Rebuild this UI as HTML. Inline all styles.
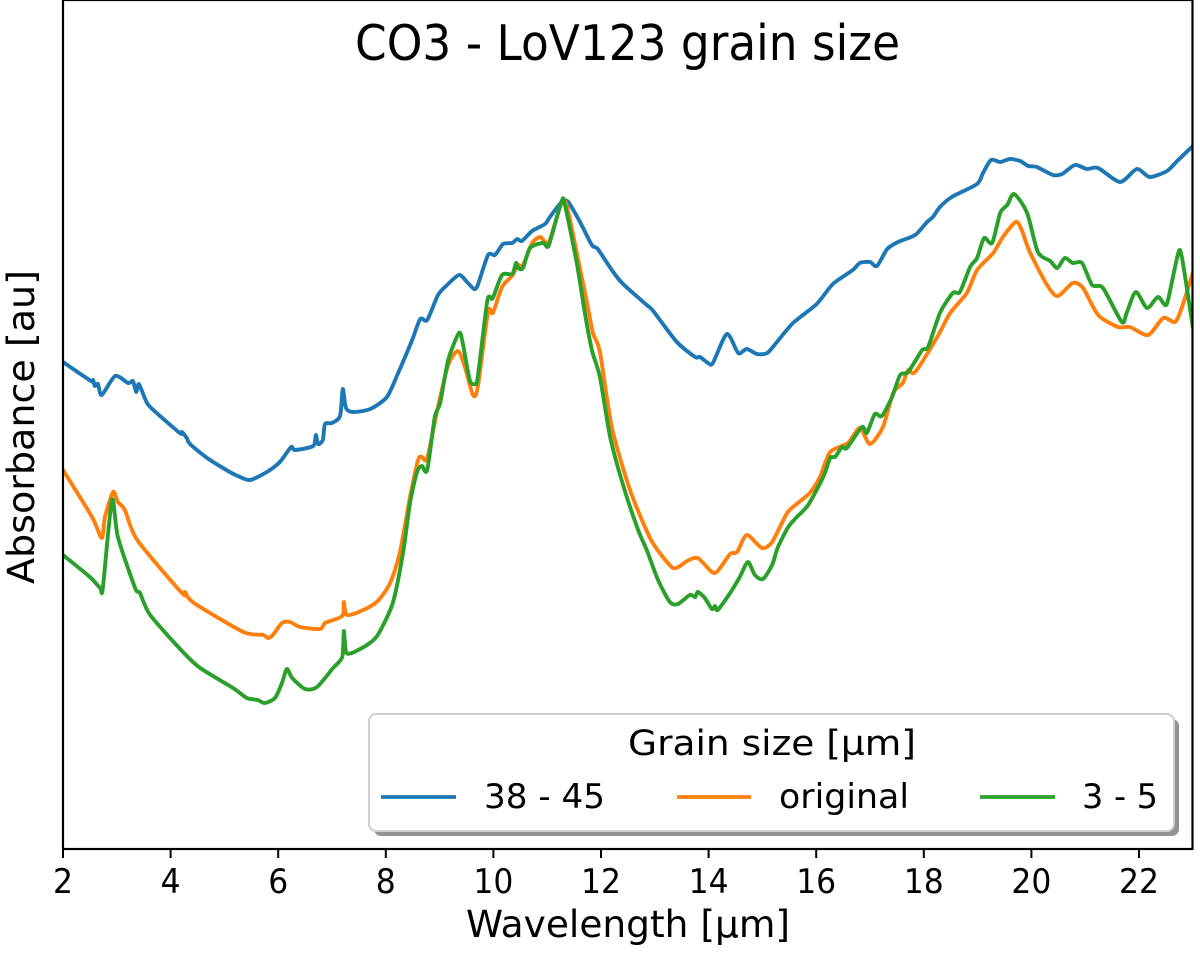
<!DOCTYPE html>
<html lang="en">
<head>
<meta charset="utf-8">
<title>CO3 - LoV123 grain size</title>
<style>
html,body{margin:0;padding:0;background:#fff;}
svg{display:block;}
text{font-family:"DejaVu Sans","Liberation Sans",sans-serif;fill:#000;}
</style>
</head>
<body>
<svg id="chart" xmlns="http://www.w3.org/2000/svg" width="1200" height="954" viewBox="0 0 1200 954">
  <defs>
    <clipPath id="plot-clip"><rect x="63" y="0" width="1129.5" height="849"/></clipPath>
    <filter id="soft" x="-2%" y="-2%" width="104%" height="104%"><feGaussianBlur stdDeviation="0.35"/></filter>
  </defs>
  <rect x="0" y="0" width="1200" height="954" fill="#fff"/>
  <g clip-path="url(#plot-clip)">
    <g id="series" filter="url(#soft)"></g>
  </g>
  <g id="ticks"></g>
  <rect x="63" y="0" width="1129.5" height="849" fill="none" stroke="#000" stroke-width="2.2"/>
  <text x="627.5" y="60" font-size="49" text-anchor="middle" textLength="545" lengthAdjust="spacingAndGlyphs">CO3 - LoV123 grain size</text>
  <text x="628" y="937" font-size="37" text-anchor="middle" textLength="324" lengthAdjust="spacingAndGlyphs">Wavelength [µm]</text>
  <text transform="translate(34,427) rotate(-90)" font-size="37" text-anchor="middle" textLength="314" lengthAdjust="spacingAndGlyphs">Absorbance [au]</text>
  <g>
    <rect x="374" y="719" width="805" height="117" rx="7" fill="#808080" opacity="0.85"/>
    <rect x="369" y="714" width="805" height="117" rx="7" fill="#fff" stroke="#cfcfcf" stroke-width="2"/>
    <text x="772" y="755" font-size="35" text-anchor="middle" textLength="288" lengthAdjust="spacingAndGlyphs">Grain size [µm]</text>
    <line x1="381" x2="456" y1="797" y2="797" stroke="#1f77b4" stroke-width="3.8"/>
    <text x="484" y="808" font-size="34" textLength="121" lengthAdjust="spacingAndGlyphs">38 - 45</text>
    <line x1="677" x2="751" y1="797" y2="797" stroke="#ff7f0e" stroke-width="3.8"/>
    <text x="779" y="808" font-size="34" textLength="130" lengthAdjust="spacingAndGlyphs">original</text>
    <line x1="980" x2="1055" y1="797" y2="797" stroke="#2ca02c" stroke-width="3.8"/>
    <text x="1082" y="808" font-size="34" textLength="76" lengthAdjust="spacingAndGlyphs">3 - 5</text>
  </g>
</svg>
<script>
const xTickValues = [2,4,6,8,10,12,14,16,18,20,22];
const xTickLabels = ["2","4","6","8","10","12","14","16","18","20","22"];

const wavelengthLarge = [2.00,2.52,2.56,2.59,2.65,2.72,2.97,3.21,3.30,3.36,3.41,3.52,3.62,4.17,4.21,4.30,4.36,4.68,5.10,5.29,5.48,5.79,6.03,6.24,6.31,6.65,6.70,6.74,6.83,6.87,7.00,7.15,7.20,7.26,7.39,7.71,8.02,8.23,8.49,8.64,8.77,8.97,9.14,9.36,9.51,9.64,9.71,9.90,10.03,10.18,10.35,10.44,10.53,10.72,10.96,11.05,11.27,11.39,11.61,11.83,11.94,12.20,12.41,12.85,12.97,13.41,13.75,13.84,13.99,14.08,14.34,14.55,14.71,14.90,15.09,15.27,15.57,16.01,16.31,16.68,16.81,17.00,17.13,17.32,17.52,17.84,18.06,18.17,18.30,18.52,18.99,19.10,19.25,19.42,19.60,19.79,19.94,20.10,20.40,20.57,20.81,21.03,21.24,21.65,21.96,22.20,22.52,22.71,23.00];
const absorbanceLarge = [.488,.469,.470,.464,.466,.455,.474,.467,.469,.458,.466,.452,.443,.417,.418,.412,.406,.392,.378,.373,.370,.378,.388,.403,.400,.404,.415,.406,.410,.426,.427,.434,.461,.442,.438,.441,.453,.477,.510,.531,.530,.555,.565,.575,.568,.561,.565,.595,.595,.606,.607,.611,.609,.619,.626,.633,.648,.648,.628,.605,.601,.580,.566,.545,.539,.508,.493,.493,.487,.487,.516,.497,.501,.496,.497,.508,.527,.546,.566,.580,.587,.588,.584,.601,.608,.615,.628,.633,.643,.653,.666,.677,.690,.688,.691,.689,.684,.683,.675,.676,.685,.681,.682,.668,.681,.673,.679,.689,.704];

const wavelengthOriginal = [2.00,2.54,2.72,2.78,2.93,3.02,3.15,3.38,4.21,4.27,4.32,4.49,5.35,5.72,5.81,5.90,6.07,6.22,6.41,6.78,6.87,7.19,7.22,7.28,7.58,7.85,8.08,8.26,8.45,8.60,8.67,8.77,8.97,9.16,9.34,9.47,9.62,9.71,9.90,9.99,10.16,10.36,10.44,10.55,10.72,10.87,10.96,11.05,11.27,11.37,11.55,11.74,11.85,11.98,12.20,12.54,12.91,13.15,13.34,13.47,13.60,13.80,14.06,14.17,14.40,14.53,14.71,14.99,15.18,15.46,15.66,15.88,16.07,16.26,16.59,16.81,17.00,17.24,17.43,17.61,17.71,17.84,18.25,18.49,18.80,18.99,19.29,19.47,19.71,19.82,19.97,20.29,20.49,20.77,20.96,21.24,21.61,21.83,22.17,22.45,22.67,22.80,23.00];
const absorbanceOriginal = [.380,.333,.312,.333,.358,.348,.340,.310,.257,.258,.253,.245,.218,.215,.212,.215,.227,.228,.223,.221,.227,.234,.248,.235,.240,.249,.267,.297,.353,.390,.393,.392,.443,.485,.499,.483,.455,.463,.538,.537,.563,.575,.585,.585,.607,.613,.608,.610,.648,.643,.597,.547,.517,.498,.423,.360,.312,.293,.282,.284,.289,.292,.278,.279,.296,.298,.315,.302,.308,.337,.347,.357,.373,.398,.407,.422,.406,.423,.457,.467,.480,.478,.513,.537,.557,.580,.597,.613,.628,.620,.598,.565,.554,.567,.562,.535,.523,.523,.515,.532,.528,.543,.577];

const wavelengthSmall = [2.00,2.50,2.69,2.74,2.91,3.02,3.34,3.43,3.62,4.23,4.55,5.16,5.42,5.62,5.75,5.94,6.07,6.16,6.26,6.50,6.72,7.02,7.19,7.22,7.26,7.37,7.65,7.85,8.13,8.32,8.45,8.58,8.67,8.77,8.91,9.01,9.16,9.36,9.43,9.56,9.66,9.71,9.88,9.94,9.99,10.16,10.35,10.42,10.46,10.55,10.68,10.92,11.00,11.05,11.27,11.33,11.55,11.70,11.83,11.98,12.17,12.41,12.69,12.85,13.06,13.28,13.43,13.65,13.75,13.80,13.93,14.06,14.12,14.17,14.40,14.58,14.73,14.86,15.01,15.18,15.29,15.48,15.64,15.85,16.13,16.26,16.35,16.48,16.57,16.85,16.94,17.09,17.22,17.41,17.56,17.71,17.97,18.08,18.30,18.54,18.67,18.86,18.99,19.12,19.27,19.42,19.55,19.68,19.92,20.12,20.35,20.48,20.62,20.77,20.94,21.13,21.33,21.68,21.77,21.94,22.15,22.35,22.48,22.54,22.73,22.80,23.00];
const absorbanceSmall = [.295,.273,.262,.262,.350,.313,.262,.257,.235,.198,.182,.162,.152,.150,.147,.152,.167,.181,.172,.161,.163,.182,.193,.219,.198,.197,.205,.215,.247,.297,.347,.378,.384,.380,.433,.447,.490,.517,.507,.470,.466,.473,.547,.553,.552,.575,.576,.587,.582,.582,.602,.607,.603,.608,.649,.645,.587,.537,.500,.473,.413,.365,.320,.300,.270,.248,.246,.255,.253,.258,.252,.241,.244,.240,.257,.273,.288,.275,.271,.285,.303,.323,.333,.345,.373,.392,.393,.403,.402,.423,.417,.436,.434,.453,.475,.478,.500,.503,.537,.557,.558,.583,.592,.612,.607,.637,.645,.656,.637,.598,.589,.582,.592,.587,.587,.565,.562,.528,.537,.558,.542,.553,.545,.550,.597,.592,.523];

const xDomain = [2, 23];
const xRange = [63, 1192.8];
const yDomain = [0, 0.85];
const yRange = [850, 0];
const SVG_NS = "http://www.w3.org/2000/svg";

function xScale(v) {
  return xRange[0] + (v - xDomain[0]) / (xDomain[1] - xDomain[0]) * (xRange[1] - xRange[0]);
}
function yScale(v) {
  return yRange[0] + (v - yDomain[0]) / (yDomain[1] - yDomain[0]) * (yRange[1] - yRange[0]);
}
/* Smooth line through every data point (Catmull-Rom segments). */
function linePath(xs, ys) {
  const px = xs.map(xScale);
  const py = ys.map(yScale);
  const k = 0.75 / 6;
  let d = "M" + px[0].toFixed(2) + " " + py[0].toFixed(2);
  for (let i = 0; i < px.length - 1; i++) {
    const a = Math.max(i - 1, 0);
    const b = Math.min(i + 2, px.length - 1);
    const c1x = px[i] + (px[i + 1] - px[a]) * k;
    const c1y = py[i] + (py[i + 1] - py[a]) * k;
    const c2x = px[i + 1] - (px[b] - px[i]) * k;
    const c2y = py[i + 1] - (py[b] - py[i]) * k;
    d += "C" + c1x.toFixed(2) + " " + c1y.toFixed(2) + " " + c2x.toFixed(2) + " " + c2y.toFixed(2) + " " + px[i + 1].toFixed(2) + " " + py[i + 1].toFixed(2);
  }
  return d;
}

const seriesGroup = document.getElementById("series");

const lineLarge = document.createElementNS(SVG_NS, "path");


lineLarge.setAttribute("d", linePath(wavelengthLarge, absorbanceLarge));
lineLarge.setAttribute("stroke", "#1f77b4");
seriesGroup.appendChild(lineLarge);

const lineOriginal = document.createElementNS(SVG_NS, "path");


lineOriginal.setAttribute("d", linePath(wavelengthOriginal, absorbanceOriginal));
lineOriginal.setAttribute("stroke", "#ff7f0e");
seriesGroup.appendChild(lineOriginal);

const lineSmall = document.createElementNS(SVG_NS, "path");


lineSmall.setAttribute("d", linePath(wavelengthSmall, absorbanceSmall));
lineSmall.setAttribute("stroke", "#2ca02c");
seriesGroup.appendChild(lineSmall);

[lineLarge, lineOriginal, lineSmall].forEach(function (p) {
  p.setAttribute("fill", "none");
  p.setAttribute("stroke-width", "3.9");
  p.setAttribute("stroke-linejoin", "round");
  p.setAttribute("stroke-linecap", "round");
});

const tickGroup = document.getElementById("ticks");
xTickValues.forEach(function (v, i) {
  const tick = document.createElementNS(SVG_NS, "line");
  
  
  tick.setAttribute("x1", xScale(v));
  tick.setAttribute("x2", xScale(v));
  tick.setAttribute("y1", 849);
  tick.setAttribute("y2", 858);
  tick.setAttribute("stroke", "#000");
  tick.setAttribute("stroke-width", "2");
  tickGroup.appendChild(tick);

  const label = document.createElementNS(SVG_NS, "text");
  
  
  label.setAttribute("x", xScale(v));
  label.setAttribute("y", 893);
  label.setAttribute("font-size", "33.5");
  label.setAttribute("text-anchor", "middle");
  label.setAttribute("lengthAdjust", "spacingAndGlyphs");
  label.setAttribute("textLength", (xTickLabels[i].length * 20).toString());
  label.textContent = xTickLabels[i];
  tickGroup.appendChild(label);
});
</script>
</body>
</html>
